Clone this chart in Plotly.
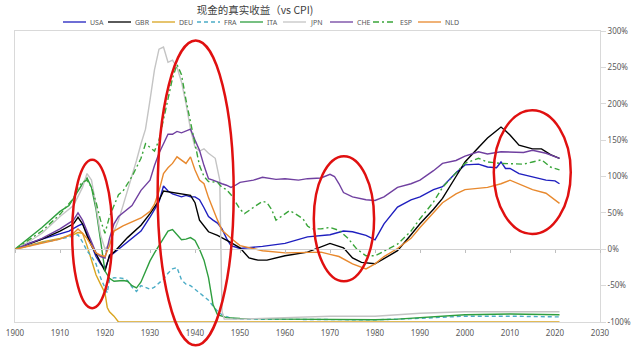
import plotly.graph_objects as go

# Real return on cash (vs CPI), cumulative %, by country
usa_years = [1900, 1903, 1906, 1909, 1912, 1914, 1915, 1916, 1917, 1918, 1919, 1920, 1921, 1922, 1925, 1928, 1930, 1932, 1933, 1934, 1935, 1937, 1938, 1939, 1940, 1941, 1942, 1943, 1944, 1945, 1946, 1947, 1948, 1950, 1955, 1960, 1965, 1970, 1973, 1975, 1978, 1980, 1982, 1985, 1988, 1990, 1993, 1995, 1998, 2000, 2003, 2005, 2007, 2008, 2009, 2010, 2012, 2015, 2018, 2020, 2021]
usa_vals = [0, 8, 14, 19, 25, 32, 35, 22, 5, -10, -20, -27, -10, -5, 9, 25, 44, 65, 87, 80, 76, 72, 74, 72, 72, 68, 57, 45, 40, 36, 28, 15, 5, 1, 4, 8, 17, 20, 25, 24, 19, 13, 35, 58, 68, 72, 82, 86, 105, 116, 117, 113, 112, 120, 111, 111, 104, 99, 95, 94, 90]

gbr_years = [1900, 1903, 1906, 1910, 1913, 1914, 1915, 1916, 1917, 1918, 1919, 1920, 1921, 1922, 1925, 1928, 1930, 1932, 1933, 1935, 1937, 1939, 1940, 1941, 1943, 1945, 1948, 1950, 1952, 1954, 1956, 1960, 1965, 1968, 1970, 1973, 1975, 1977, 1980, 1982, 1985, 1988, 1990, 1993, 1995, 1998, 2000, 2003, 2005, 2007, 2008, 2009, 2010, 2012, 2015, 2017, 2019, 2021]
gbr_vals = [0, 7, 14, 25, 35, 44, 35, 19, 5, -6, -18, -30, -8, -4, 16, 33, 49, 67, 80, 78, 77, 74, 64, 40, 24, 19, 9, 2, -12, -15, -15, -9, -4, 3, 8, 2, -12, -18, -20, -13, -2, 20, 35, 55, 70, 100, 120, 140, 153, 163, 168, 163, 157, 143, 138, 138, 130, 125]

deu_years = [1900, 1903, 1906, 1910, 1913, 1914, 1915, 1916, 1917, 1918, 1919, 1920, 1920.5, 1921, 1922, 1923, 1950, 2000, 2021]
deu_vals = [0, 5, 10, 15, 20, 23, 22, 5, -15, -35, -48, -60, -80, -86, -92, -100, -100, -100, -100]

fra_years = [1900, 1903, 1906, 1910, 1913, 1914, 1915, 1916, 1917, 1918, 1919, 1920, 1920.5, 1921, 1922, 1924, 1925, 1926, 1927, 1928, 1929, 1930, 1931, 1932, 1933, 1934, 1935, 1936, 1937, 1938, 1939, 1940, 1941, 1942, 1943, 1944, 1945, 1946, 1948, 1950, 1960, 1970, 1980, 1990, 1995, 2000, 2010, 2021]
fra_vals = [0, 5, 9, 14, 19, 20, 10, -2, -10, -20, -39, -53, -60, -42, -39, -40, -43, -52, -58, -50, -53, -55, -52, -47, -41, -33, -27, -25, -42, -48, -50, -55, -60, -64, -70, -78, -85, -90, -95, -96, -96, -97, -97, -95, -93, -92, -92, -93]

ita_years = [1900, 1903, 1906, 1910, 1912, 1914, 1915, 1916, 1917, 1918, 1919, 1920, 1921, 1922, 1924, 1925, 1926, 1927, 1928, 1929, 1930, 1931, 1932, 1933, 1934, 1935, 1936, 1937, 1938, 1939, 1940, 1941, 1942, 1943, 1944, 1945, 1947, 1950, 1960, 1970, 1980, 1985, 1990, 1995, 2000, 2010, 2021]
ita_vals = [0, 15, 30, 52, 60, 80, 90, 98, 85, 55, 10, -30, -40, -44, -43, -44, -50, -53, -45, -30, -16, -5, 5, 16, 25, 27, 20, 13, 14, 16, 12, 0, -15, -39, -76, -90, -94, -95, -96, -97, -97, -96, -94, -91, -90, -89, -90]

jpn_years = [1900, 1903, 1906, 1910, 1913, 1915, 1916, 1917, 1918, 1919, 1920, 1921, 1922, 1923, 1924, 1925, 1926, 1927, 1928, 1929, 1930, 1931, 1932, 1933, 1934, 1935, 1936, 1937, 1938, 1939, 1940, 1941, 1942, 1943, 1944.5, 1945.5, 1946, 1946.5, 1950, 1960, 1970, 1980, 1990, 2000, 2010, 2021]
jpn_vals = [0, 10, 22, 45, 60, 85, 104, 95, 60, 20, 0, 8, 25, 40, 60, 80, 100, 122, 145, 165, 205, 247, 275, 278, 257, 260, 250, 230, 200, 165, 140, 135, 138, 132, 125, 95, -85, -96, -96, -94, -92, -92, -88, -86, -86, -86]

che_years = [1900, 1903, 1906, 1910, 1913, 1914, 1915, 1916, 1917, 1918, 1919, 1920, 1921, 1922, 1923, 1926, 1928, 1930, 1931, 1932, 1933, 1934, 1935, 1936, 1937, 1938, 1939, 1940, 1941, 1942, 1943, 1944, 1945, 1946, 1947, 1948, 1949, 1950, 1953, 1955, 1958, 1960, 1963, 1965, 1968, 1970, 1971, 1972, 1973, 1975, 1978, 1980, 1982, 1985, 1988, 1990, 1993, 1995, 1998, 2000, 2003, 2005, 2008, 2010, 2013, 2015, 2018, 2021]
che_vals = [0, 8, 15, 28, 40, 50, 40, 25, 10, -5, -10, -12, 15, 35, 45, 60, 81, 95, 115, 132, 145, 158, 158, 162, 160, 163, 165, 150, 136, 115, 97, 95, 92, 90, 88, 85, 88, 92, 95, 99, 96, 97, 95, 97, 98, 103, 100, 90, 78, 72, 68, 67, 72, 85, 90, 95, 108, 118, 122, 128, 134, 131, 134, 134, 133, 136, 132, 125]

esp_years = [1900, 1903, 1906, 1910, 1913, 1914, 1915, 1916, 1917, 1918, 1919, 1920, 1921, 1922, 1923, 1924, 1926, 1928, 1929, 1930, 1931, 1932, 1933, 1934, 1935, 1936, 1937, 1938, 1939, 1940, 1941, 1942, 1943, 1945, 1946, 1947, 1948, 1949, 1950, 1951, 1953, 1955, 1956, 1957, 1958, 1960, 1961, 1962, 1964, 1965, 1966, 1968, 1970, 1972, 1974, 1976, 1978, 1980, 1982, 1985, 1988, 1990, 1993, 1995, 1998, 2000, 2003, 2005, 2008, 2010, 2013, 2015, 2017, 2019, 2021]
esp_vals = [0, 12, 25, 48, 70, 85, 92, 95, 85, 65, 40, 22, 45, 60, 75, 80, 100, 125, 145, 140, 135, 150, 178, 210, 235, 254, 240, 205, 175, 146, 115, 100, 93, 92, 85, 82, 75, 65, 55, 49, 58, 66, 64, 55, 40, 48, 53, 50, 42, 32, 28, 28, 30, 26, 15, 0, -9, -9, -3, 7, 25, 42, 65, 85, 105, 118, 125, 120, 118, 118, 117, 120, 123, 113, 109]

nld_years = [1900, 1903, 1906, 1910, 1913, 1914, 1915, 1916, 1917, 1918, 1919, 1920, 1921, 1922, 1924, 1926, 1928, 1930, 1931, 1932, 1933, 1934, 1935, 1936, 1937, 1938, 1939, 1940, 1941, 1942, 1943, 1944, 1945, 1946, 1947, 1948, 1950, 1953, 1955, 1960, 1965, 1968, 1970, 1972, 1975, 1977, 1978, 1980, 1982, 1985, 1988, 1990, 1993, 1995, 1998, 2000, 2005, 2008, 2010, 2012, 2015, 2018, 2021]
nld_vals = [0, 4, 8, 14, 22, 28, 22, 15, 5, -5, -8, -10, 5, 25, 32, 37, 43, 52, 62, 80, 104, 112, 118, 127, 122, 118, 127, 109, 95, 90, 71, 55, 40, 26, 20, 15, 5, 1, -2, -5, -5, -4, -7, -10, -20, -25, -27, -20, -10, 1, 15, 30, 50, 64, 76, 82, 85, 90, 95, 90, 82, 77, 63]

x_ticks = list(range(1900, 2031, 10))
y_ticks = [-100, -50, 0, 50, 100, 150, 200, 250, 300]
y_labels = ["-100%", "-50%", "0%", "50%", "100%", "150%", "200%", "250%", "300%"]

series = [
    ("USA", usa_years, usa_vals, "#1F1FBF", "solid"),
    ("GBR", gbr_years, gbr_vals, "#000000", "solid"),
    ("DEU", deu_years, deu_vals, "#D9A520", "solid"),
    ("FRA", fra_years, fra_vals, "#4BACC6", "4px,3px"),
    ("ITA", ita_years, ita_vals, "#2E9E3E", "solid"),
    ("JPN", jpn_years, jpn_vals, "#C4C4C4", "solid"),
    ("CHE", che_years, che_vals, "#7040A0", "solid"),
    ("ESP", esp_years, esp_vals, "#3AA53A", "6px,3px,2px,3px"),
    ("NLD", nld_years, nld_vals, "#E8892E", "solid"),
]

X_RANGE = [1900, 2030]
Y_RANGE = [-100, 300]

# plot area in pixels
W, H = 640, 347
L, R, T, B = 15, 40, 31, 25
PW = W - L - R
PH = H - T - B

fig = go.Figure()
for name, xs, ys, color, dash in series:
    fig.add_trace(go.Scatter(
        x=xs, y=ys, mode="lines", name=name,
        line=dict(color=color, width=1.4, dash=dash),
        showlegend=False,
    ))

# horizontal axis crossing at 0% (tick marks only)
fig.add_trace(go.Scatter(x=[1900], y=[0], xaxis="x2", mode="markers",
                         marker=dict(opacity=0), showlegend=False, hoverinfo="skip"))

def px_to_paper_x(px):
    return (px - L) / PW

def px_to_paper_y(py):
    return (H - B - py) / PH

def data_to_paper_x(v):
    return (v - X_RANGE[0]) / (X_RANGE[1] - X_RANGE[0])

def data_to_paper_y(v):
    return (v - Y_RANGE[0]) / (Y_RANGE[1] - Y_RANGE[0])

shapes = []
annotations = []

# legend row
legend_starts = [63, 108, 152, 197, 240, 283, 330, 373, 418]
legend_y = px_to_paper_y(22)
for (name, xs, ys, color, dash), sx in zip(series, legend_starts):
    shapes.append(dict(type="line", xref="paper", yref="paper",
                       x0=px_to_paper_x(sx), x1=px_to_paper_x(sx + 23),
                       y0=legend_y, y1=legend_y,
                       line=dict(color=color, width=1.3, dash=dash)))
    annotations.append(dict(text=name, xref="paper", yref="paper",
                            x=px_to_paper_x(sx + 25), y=legend_y,
                            xanchor="left", yanchor="middle", showarrow=False,
                            font=dict(family="Noto Sans", size=7, color="#595959")))

# highlighted periods (years, %)
ellipses = [
    (1912.7, 1921.6, -81, 123),
    (1931.7, 1948.6, -132, 287),
    (1966.4, 1979.8, -44, 128),
    (2006.4, 2023.5, 21, 191),
]
for x0, x1, y0, y1 in ellipses:
    shapes.append(dict(type="circle", xref="paper", yref="paper",
                       x0=data_to_paper_x(x0), x1=data_to_paper_x(x1),
                       y0=data_to_paper_y(y0), y1=data_to_paper_y(y1),
                       line=dict(color="#E01010", width=2.5)))

fig.update_layout(
    width=W, height=H,
    margin=dict(l=L, r=R, t=T, b=B, autoexpand=False),
    paper_bgcolor="white", plot_bgcolor="white",
    title=dict(text="现金的真实收益（vs CPI)", x=255 / W, xref="container",
               xanchor="center", y=1 - 10 / H, yanchor="middle",
               font=dict(family="Noto Sans CJK SC", size=10.5, color="#404040")),
    xaxis=dict(range=X_RANGE, tickvals=x_ticks, ticks="", automargin=False,
               ticklabelstandoff=3, showgrid=False,
               zeroline=False, showline=True, linecolor="#D9D9D9", linewidth=1,
               mirror=True, tickfont=dict(family="Noto Sans", size=8, color="#595959")),
    xaxis2=dict(range=X_RANGE, overlaying="x", anchor="free",
                position=data_to_paper_y(0), tickvals=x_ticks, ticks="outside",
                ticklen=3, tickcolor="#BFBFBF", showticklabels=False,
                showgrid=False, zeroline=False, showline=True,
                linecolor="#D0D0D0", linewidth=1),
    yaxis=dict(range=Y_RANGE, side="right", tickvals=y_ticks, ticktext=y_labels,
               ticks="outside", ticklen=5, tickcolor="#D9D9D9", showgrid=False,
               automargin=False, zeroline=False, showline=True,
               linecolor="#D9D9D9", mirror=True,
               tickfont=dict(family="Noto Sans", size=8, color="#595959")),
    shapes=shapes,
    annotations=annotations,
    hovermode=False,
)

fig.write_html("out.html")
